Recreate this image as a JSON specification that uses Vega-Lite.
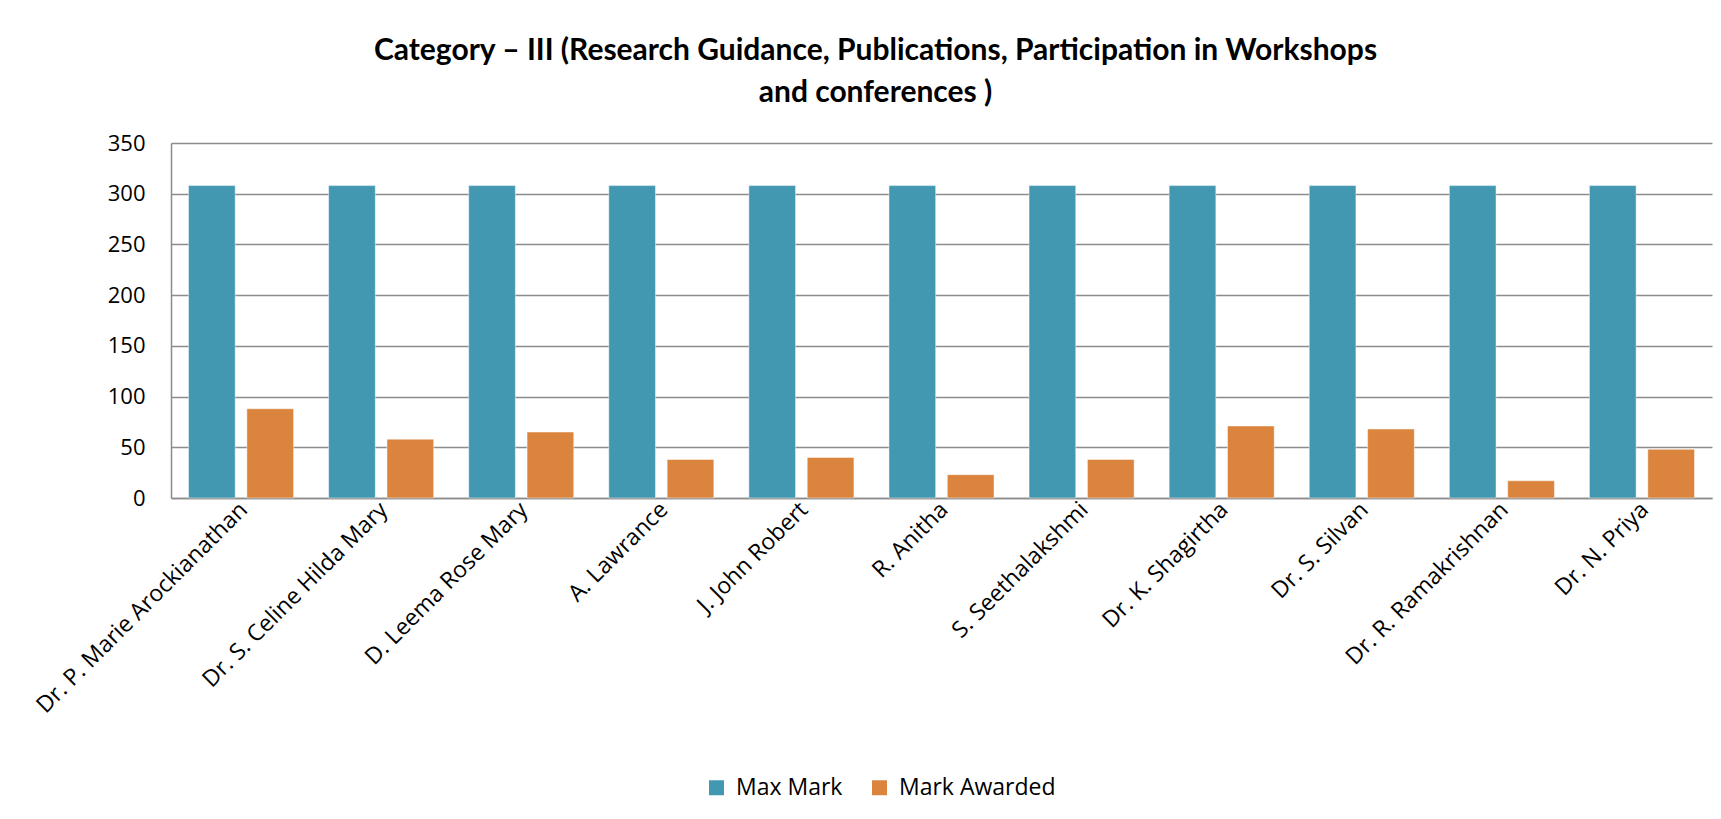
{
  "$schema": "https://vega.github.io/schema/vega-lite/v6.json",
  "width": 1541,
  "height": 355,
  "autosize": {"type": "none"},
  "padding": {"left": 171, "top": 143, "right": 9, "bottom": 321},
  "background": "white",
  "title": {
    "text": ["Category – III (Research  Guidance, Publications, Participation in Workshops", "and conferences )"],
    "font": "Lato",
    "fontSize": 30,
    "fontWeight": "bold",
    "color": "#000000",
    "lineHeight": 42,
    "anchor": "middle",
    "dx": -66,
    "offset": 24
  },
  "data": {
    "values": [
      {"name": "Dr. P. Marie Arockianathan", "series": "Max Mark", "value": 308},
      {"name": "Dr. P. Marie Arockianathan", "series": "Mark Awarded", "value": 88},
      {"name": "Dr. S. Celine Hilda Mary", "series": "Max Mark", "value": 308},
      {"name": "Dr. S. Celine Hilda Mary", "series": "Mark Awarded", "value": 58},
      {"name": "D. Leema Rose Mary", "series": "Max Mark", "value": 308},
      {"name": "D. Leema Rose Mary", "series": "Mark Awarded", "value": 65},
      {"name": "A. Lawrance", "series": "Max Mark", "value": 308},
      {"name": "A. Lawrance", "series": "Mark Awarded", "value": 38},
      {"name": "J. John Robert", "series": "Max Mark", "value": 308},
      {"name": "J. John Robert", "series": "Mark Awarded", "value": 40},
      {"name": "R. Anitha", "series": "Max Mark", "value": 308},
      {"name": "R. Anitha", "series": "Mark Awarded", "value": 23},
      {"name": "S. Seethalakshmi", "series": "Max Mark", "value": 308},
      {"name": "S. Seethalakshmi", "series": "Mark Awarded", "value": 38},
      {"name": "Dr. K. Shagirtha", "series": "Max Mark", "value": 308},
      {"name": "Dr. K. Shagirtha", "series": "Mark Awarded", "value": 71},
      {"name": "Dr. S. Silvan", "series": "Max Mark", "value": 308},
      {"name": "Dr. S. Silvan", "series": "Mark Awarded", "value": 68},
      {"name": "Dr. R. Ramakrishnan", "series": "Max Mark", "value": 308},
      {"name": "Dr. R. Ramakrishnan", "series": "Mark Awarded", "value": 17},
      {"name": "Dr. N. Priya", "series": "Max Mark", "value": 308},
      {"name": "Dr. N. Priya", "series": "Mark Awarded", "value": 48}
    ]
  },
  "mark": {"type": "bar", "stroke": "white", "strokeOpacity": 0.45, "strokeWidth": 1},
  "encoding": {
    "x": {
      "field": "name",
      "type": "nominal",
      "sort": null,
      "scale": {"paddingInner": 0.25, "paddingOuter": 0.125},
      "axis": {
        "title": null,
        "labelAngle": -45,
        "labelFont": "Open Sans",
        "labelFontSize": 23,
        "labelColor": "#000000",
        "labelPadding": 0,
        "labelOffset": -5,
        "labelLimit": 400,
        "ticks": false,
        "domainColor": "#8c8c8c",
        "domainWidth": 1.5,
        "grid": false
      }
    },
    "xOffset": {
      "field": "series",
      "type": "nominal",
      "sort": ["Max Mark", "Mark Awarded"],
      "scale": {"paddingInner": 0.2, "paddingOuter": 0}
    },
    "y": {
      "field": "value",
      "type": "quantitative",
      "scale": {"domain": [0, 350], "nice": false},
      "axis": {
        "title": null,
        "values": [0, 50, 100, 150, 200, 250, 300, 350],
        "labelFont": "Open Sans",
        "labelFontSize": 22,
        "labelColor": "#000000",
        "labelPadding": 26,
        "ticks": false,
        "domain": true,
        "domainColor": "#8c8c8c",
        "domainWidth": 1.5,
        "grid": true,
        "gridColor": "#8c8c8c",
        "gridWidth": 1.5
      }
    },
    "color": {
      "field": "series",
      "type": "nominal",
      "sort": ["Max Mark", "Mark Awarded"],
      "scale": {"domain": ["Max Mark", "Mark Awarded"], "range": ["#4398B1", "#DB843D"]},
      "legend": {
        "title": null,
        "orient": "none",
        "direction": "horizontal",
        "legendX": 534,
        "legendY": 633,
        "symbolType": "square",
        "symbolSize": 225,
        "symbolStrokeWidth": 0,
        "labelFont": "Open Sans",
        "labelFontSize": 23,
        "labelColor": "#000000",
        "labelOffset": 8,
        "columnPadding": 25,
        "padding": 0
      }
    }
  },
  "config": {
    "view": {"stroke": null}
  }
}
